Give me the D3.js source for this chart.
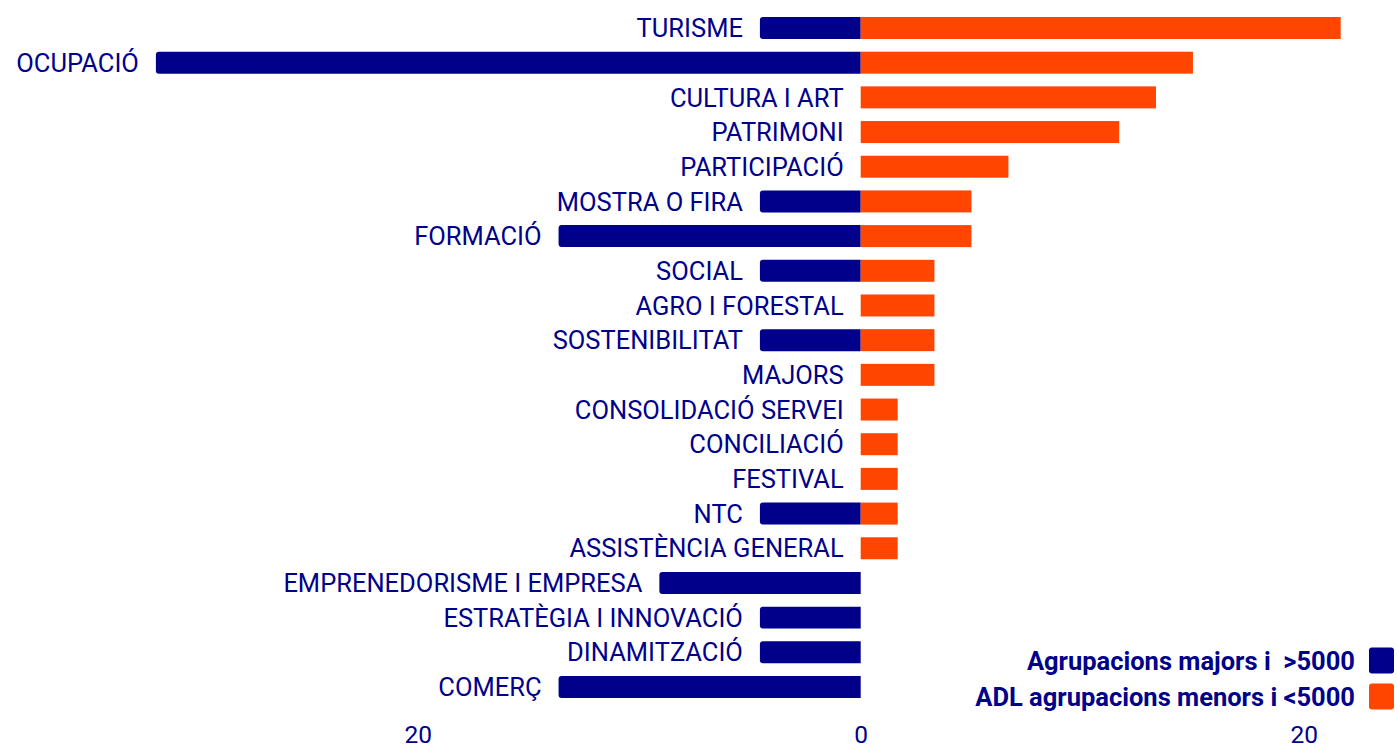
<!DOCTYPE html>
<html>
<head>
<meta charset="utf-8">
<script src="https://cdn.jsdelivr.net/npm/d3@7"></script>
<style>
  html, body { margin: 0; padding: 0; background: #fff; }
  svg { display: block; font-family: Roboto, "Noto Sans", sans-serif; }
</style>
</head>
<body>
<svg id="chart" width="1397" height="751"></svg>
<script>
// Categories (top to bottom)
const categories = [
  "TURISME", "OCUPACIÓ", "CULTURA I ART", "PATRIMONI", "PARTICIPACIÓ",
  "MOSTRA O FIRA", "FORMACIÓ", "SOCIAL", "AGRO I FORESTAL", "SOSTENIBILITAT",
  "MAJORS", "CONSOLIDACIÓ SERVEI", "CONCILIACIÓ", "FESTIVAL", "NTC",
  "ASSISTÈNCIA GENERAL", "EMPRENEDORISME I EMPRESA", "ESTRATÈGIA I INNOVACIÓ",
  "DINAMITZACIÓ", "COMERÇ"
];
// Series: % of projects, "Agrupacions majors i >5000" (drawn to the left)
const majors = [4.55, 31.82, 0, 0, 0, 4.55, 13.64, 4.55, 0, 4.55,
                0, 0, 0, 0, 4.55, 0, 9.09, 4.55, 4.55, 13.64];
// Series: % of projects, "ADL agrupacions menors i <5000" (drawn to the right)
const menors = [21.67, 15.0, 13.33, 11.67, 6.67, 5.0, 5.0, 3.33, 3.33, 3.33,
                3.33, 1.67, 1.67, 1.67, 1.67, 1.67, 0, 0, 0, 0];
const seriesNames = ["Agrupacions majors i  >5000", "ADL agrupacions menors i <5000"];
const tickValues = [-20, 0, 20];

const colors = { majors: "#00008B", menors: "#FF4500", text: "#00008B" };

const svg = d3.select("#chart");

const x = d3.scaleLinear().domain([-20, 20]).range([417.7, 1303.7]);
const y = d3.scaleBand().domain(categories).range([10.66, 704.34])
  .paddingInner(0.366).paddingOuter(0.183);

const bh = y.bandwidth();
const r = 3;

// Blue bars (left, rounded left corners)
svg.append("g").selectAll("path")
  .data(categories.map((c, i) => ({ c, v: majors[i] })).filter(d => d.v > 0))
  .join("path")
  .attr("fill", colors.majors)
  .attr("d", d => {
    const x0 = x(-d.v), x1 = x(0), y0 = y(d.c), y1 = y0 + bh;
    return `M${x1},${y0} L${x0 + r},${y0} Q${x0},${y0} ${x0},${y0 + r} L${x0},${y1 - r} Q${x0},${y1} ${x0 + r},${y1} L${x1},${y1} Z`;
  });

// Orange bars (right)
svg.append("g").selectAll("rect")
  .data(categories.map((c, i) => ({ c, v: menors[i] })).filter(d => d.v > 0))
  .join("rect")
  .attr("fill", colors.menors)
  .attr("x", x(0))
  .attr("y", d => y(d.c))
  .attr("width", d => x(d.v) - x(0))
  .attr("height", bh);

// Category labels
svg.append("g").selectAll("text")
  .data(categories.map((c, i) => ({ c, v: majors[i] })))
  .join("text")
  .attr("x", d => x(-d.v) - 17)
  .attr("y", d => y(d.c) + bh / 2)
  .attr("dy", "0.36em")
  .attr("text-anchor", "end")
  .attr("fill", colors.text)
  .style("font-size", "25.5px")
  .text(d => d.c);

// Axis
const axis = d3.axisBottom(x).tickValues(tickValues).tickSize(0)
  .tickFormat(d => Math.abs(d));
const ag = svg.append("g").attr("transform", "translate(0,723)").call(axis);
ag.select(".domain").remove();
ag.selectAll("text")
  .attr("fill", colors.text)
  .style("font-size", "24.5px")
  .style("font-family", "Roboto, sans-serif");

// Legend
const legend = svg.append("g");
const legendItems = [
  { name: seriesNames[0], color: colors.majors, cy: 660.5 },
  { name: seriesNames[1], color: colors.menors, cy: 696.5 }
];
legendItems.forEach(it => {
  legend.append("rect")
    .attr("x", 1369).attr("y", it.cy - 13)
    .attr("width", 25).attr("height", 26)
    .attr("rx", 3)
    .attr("fill", it.color);
  legend.append("text")
    .attr("x", 1355).attr("y", it.cy)
    .attr("dy", "0.36em")
    .attr("text-anchor", "end")
    .attr("fill", colors.text)
    .style("font-size", "25.5px")
    .style("font-weight", "bold")
    .style("white-space", "pre")
    .attr("xml:space", "preserve")
    .text(it.name);
});
</script>
</body>
</html>
